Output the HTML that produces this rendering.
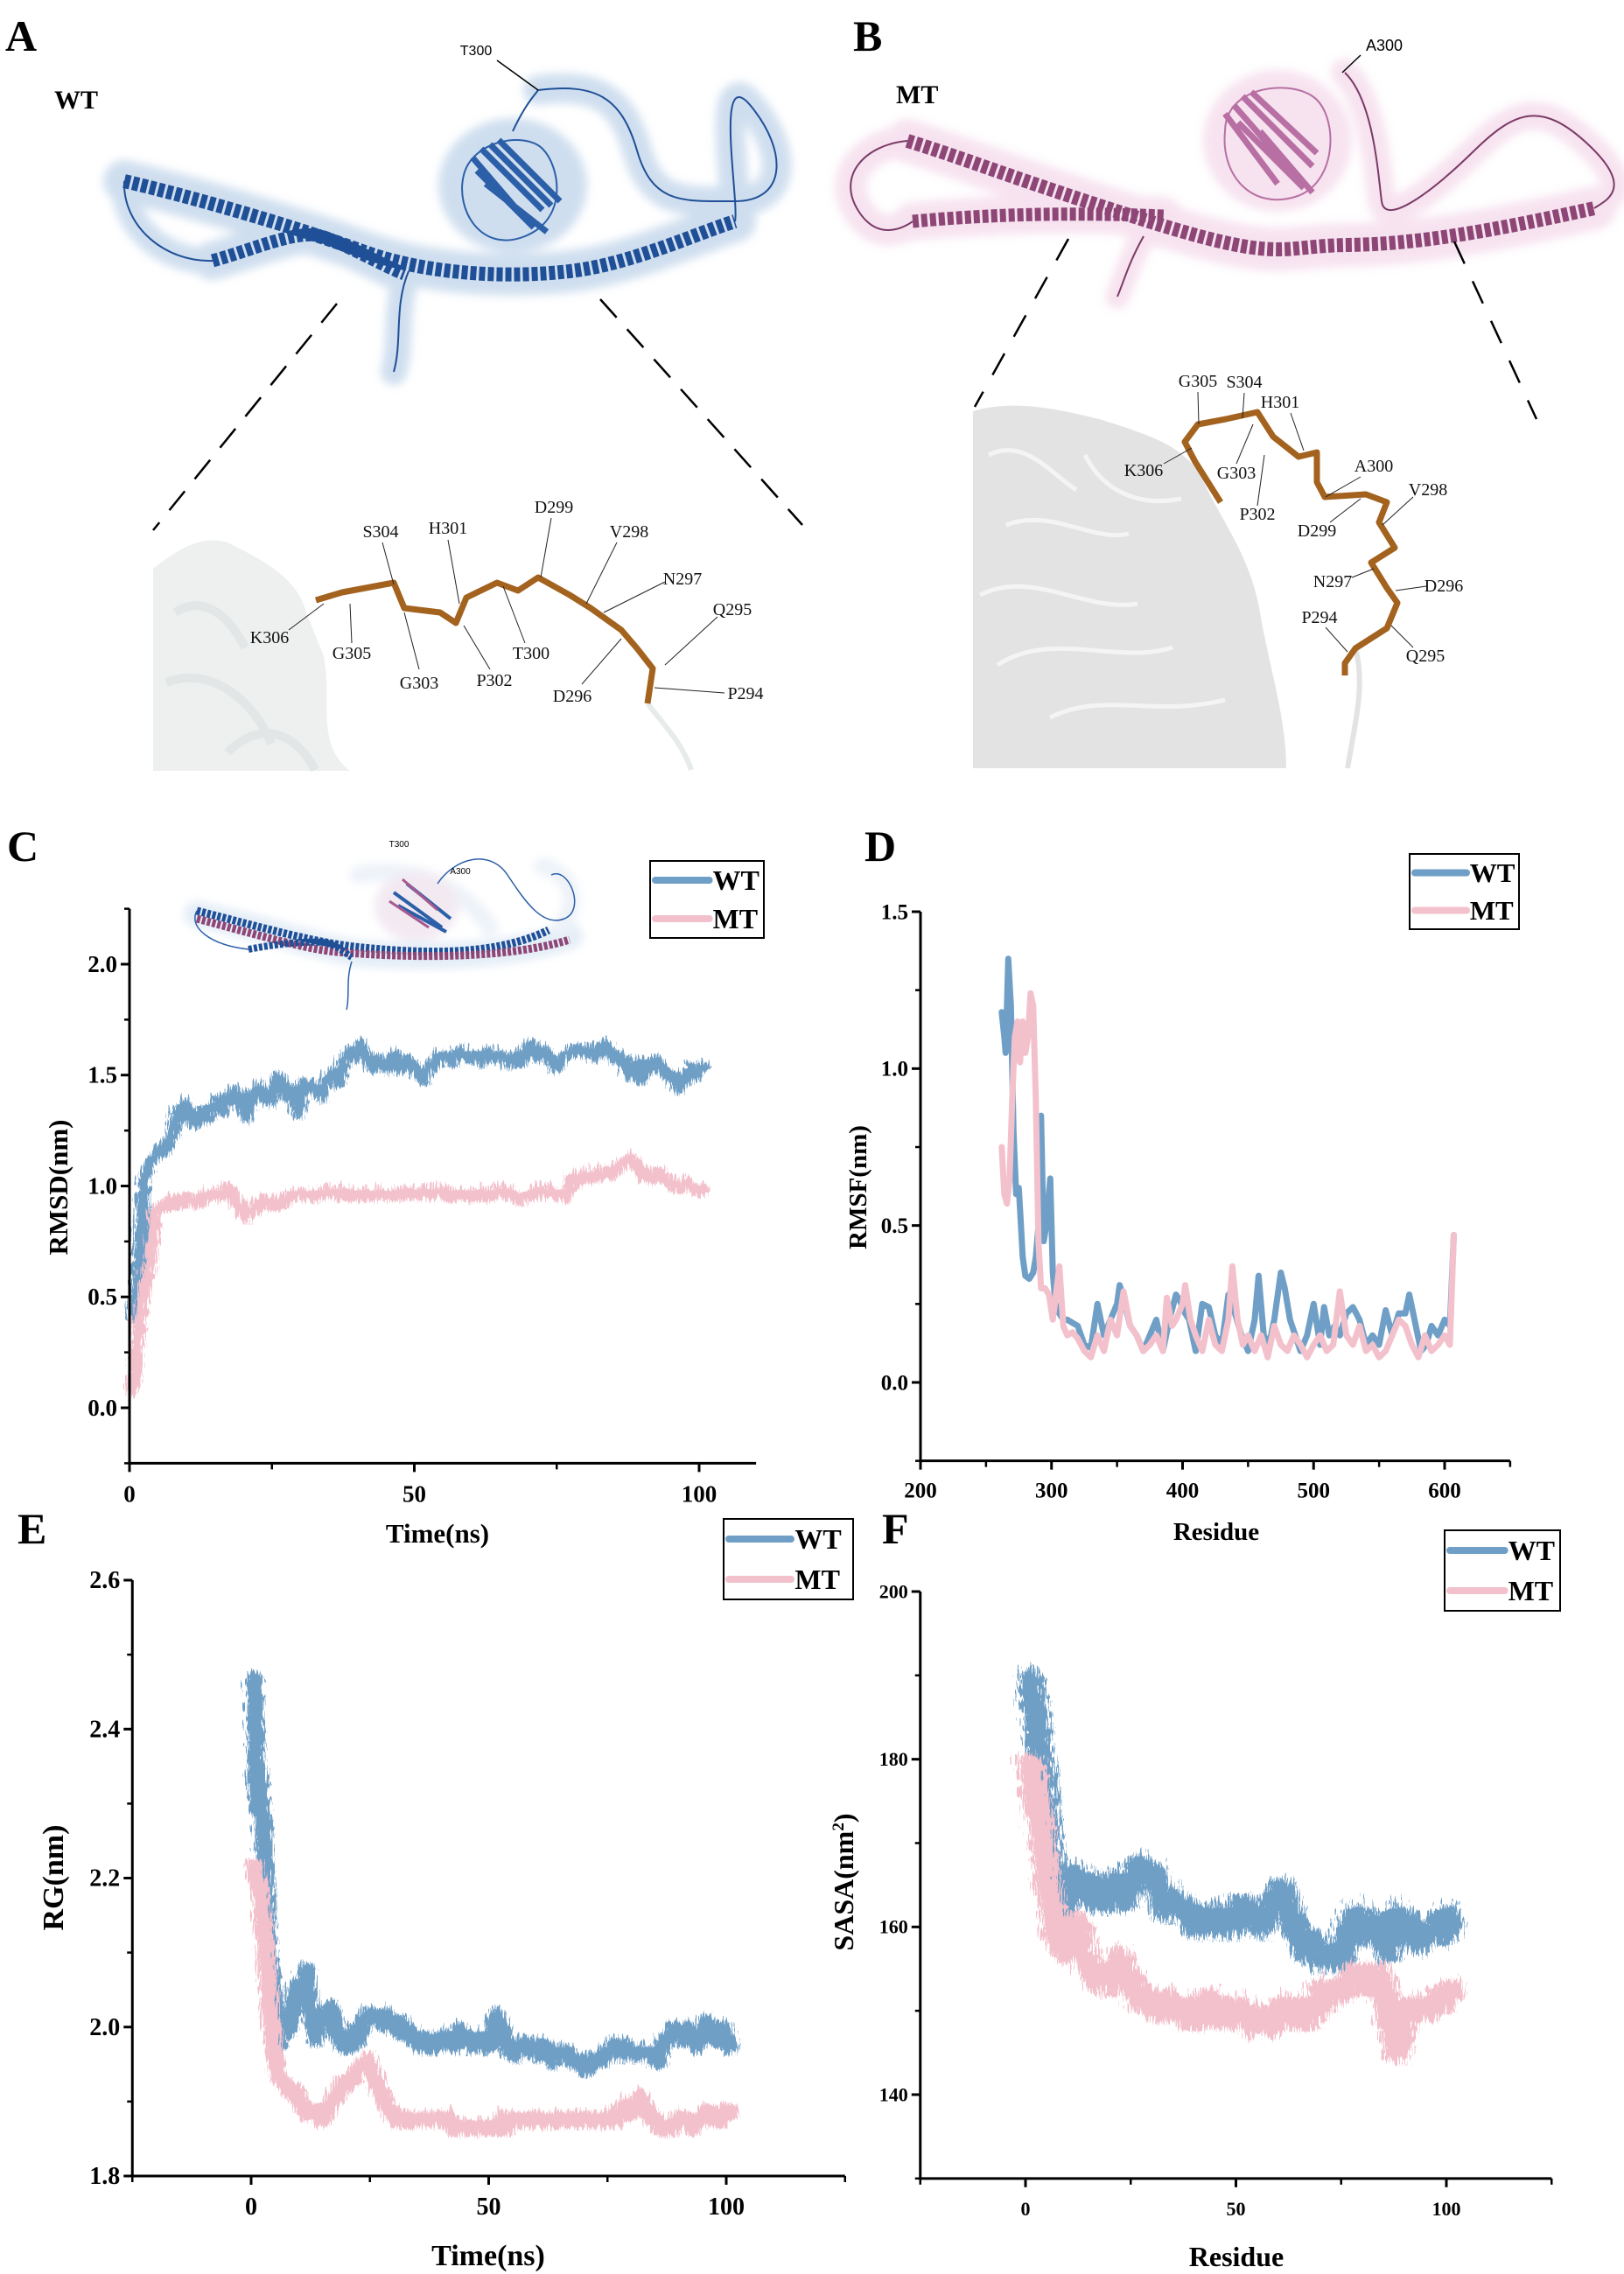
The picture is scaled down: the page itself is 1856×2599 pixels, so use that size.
<!DOCTYPE html>
<html><head><meta charset="utf-8">
<style>
html,body{margin:0;padding:0;background:#fff;}
svg{display:block;}
text{font-family:"Liberation Serif",serif;}
.sans{font-family:"Liberation Sans",sans-serif;}
</style></head>
<body>
<svg id="fig" xmlns="http://www.w3.org/2000/svg" width="1856" height="2599" viewBox="0 0 1856 2599">
<defs>
<filter id="blur" x="-20%" y="-20%" width="140%" height="140%"><feGaussianBlur stdDeviation="5"/></filter>
<filter id="jag" x="-5%" y="-10%" width="110%" height="120%">
<feTurbulence type="turbulence" baseFrequency="0.35 0.05" numOctaves="2" seed="3" result="t"/>
<feDisplacementMap in="SourceGraphic" in2="t" scale="16" xChannelSelector="A" yChannelSelector="R"/>
</filter>
<filter id="jag2" x="-5%" y="-10%" width="110%" height="120%">
<feTurbulence type="turbulence" baseFrequency="0.35 0.05" numOctaves="2" seed="7" result="t"/>
<feDisplacementMap in="SourceGraphic" in2="t" scale="26" xChannelSelector="A" yChannelSelector="R"/>
</filter>
</defs>

<!-- ============ Panel A ============ -->
<g>
<text x="6" y="58" font-size="50" font-weight="bold">A</text>
<text x="62" y="124" font-size="30" font-weight="bold">WT</text>
<g filter="url(#blur)" opacity="0.55" stroke="#a9c4e2" fill="none" stroke-linecap="round" stroke-linejoin="round">
<path d="M142,207 C220,225 340,260 414,287 S580,318 651,310 S800,265 840,253" stroke-width="48"/>
<path d="M243,298 C290,285 340,262 367,270 S440,305 462,313" stroke-width="44"/>
<path d="M142,207 C140,260 190,300 243,298" stroke-width="30"/>
<path d="M615,103 C680,95 710,110 728,172 S780,230 840,230 S900,172 858,121 S845,230 840,253" stroke-width="34"/>
<path d="M467,310 C450,350 460,390 450,425" stroke-width="30"/>
<ellipse cx="586" cy="212" rx="80" ry="72" fill="#a9c4e2" stroke-width="10"/>
</g>
<path d="M142,207 C220,225 340,260 414,287 S580,318 651,310 S800,265 840,253" stroke="#1f4f96" stroke-width="16" fill="none" stroke-dasharray="7 3"/>
<path d="M243,298 C290,285 340,262 367,270 S440,305 462,313" stroke="#1f4f96" stroke-width="15" fill="none" stroke-dasharray="7 3"/>
<path d="M142,207 C140,260 190,300 243,298 M615,103 C680,95 710,110 728,172 S780,230 840,230 S900,172 858,121 S845,230 840,253 M467,310 C450,350 460,390 450,425 M586,150 C600,120 610,110 615,103" stroke="#1f4f96" stroke-width="2" fill="none"/>
<g stroke="#2b5fa8" stroke-width="7" fill="none">
<path d="M540,180 L600,250 M550,170 L620,240 M560,165 L630,235 M545,195 L610,260 M555,210 L625,265 M570,160 L640,230"/>
<path d="M530,200 C540,160 600,150 620,170 S650,250 600,270 S520,240 530,200" stroke-width="2"/>
</g>
<text x="544" y="63" font-size="16" text-anchor="middle" class="sans">T300</text>
<line x1="568" y1="69" x2="615" y2="103" stroke="#000" stroke-width="1.5"/>
<g stroke="#000" stroke-width="2.5" stroke-dasharray="28 18">
<line x1="385" y1="347" x2="175" y2="606"/><line x1="686" y1="342" x2="917" y2="600"/>
</g>
<g>
<path d="M175,650 C200,630 230,610 260,620 C300,640 340,660 350,700 L370,750 C380,800 360,850 400,881 L175,881 Z" fill="#eef0f0"/>
<path d="M200,700 C230,680 260,700 280,740 M190,780 C240,760 290,800 310,850 M260,860 C300,820 340,840 360,880" stroke="#e2e6e6" stroke-width="10" fill="none"/>
<path d="M740,804 C760,830 780,850 790,880" stroke="#e8ebeb" stroke-width="6" fill="none"/>
<path d="M361,686 L391,677 L450,666 L462,695 L503,700 L521,712 L533,683 L568,666 L592,675 L615,660 L651,680 L675,695 L710,720 L728,741 L746,764 L740,804" stroke="#a3621e" stroke-width="7" fill="none" stroke-linejoin="round"/>
<g font-size="20" class="sans" text-anchor="middle" fill="#111">
<text x="308" y="735">K306</text><text x="402" y="753">G305</text><text x="435" y="614">S304</text>
<text x="479" y="787">G303</text><text x="512" y="610">H301</text><text x="565" y="784">P302</text>
<text x="607" y="753">T300</text><text x="633" y="586">D299</text><text x="719" y="614">V298</text>
<text x="780" y="668">N297</text><text x="837" y="703">Q295</text><text x="654" y="802">D296</text>
<text x="852" y="799">P294</text>
</g>
<g stroke="#222" stroke-width="1">
<line x1="330" y1="720" x2="370" y2="690"/><line x1="402" y1="735" x2="400" y2="690"/><line x1="437" y1="620" x2="450" y2="668"/>
<line x1="479" y1="765" x2="462" y2="700"/><line x1="512" y1="617" x2="525" y2="690"/><line x1="560" y1="765" x2="530" y2="715"/>
<line x1="600" y1="735" x2="575" y2="670"/><line x1="630" y1="592" x2="618" y2="660"/><line x1="705" y1="620" x2="670" y2="690"/>
<line x1="760" y1="665" x2="690" y2="700"/><line x1="820" y1="705" x2="760" y2="760"/><line x1="665" y1="782" x2="710" y2="730"/>
<line x1="828" y1="792" x2="748" y2="786"/>
</g>
</g>
</g>

<!-- ============ Panel B ============ -->
<g>
<text x="975" y="58" font-size="50" font-weight="bold">B</text>
<text x="1024" y="118" font-size="30" font-weight="bold">MT</text>
<g filter="url(#blur)" opacity="0.5" stroke="#efc8e0" fill="none" stroke-linecap="round" stroke-linejoin="round">
<path d="M1037,161 C1100,180 1160,205 1313,253 S1461,281 1540,280 S1700,265 1822,238" stroke-width="50"/>
<path d="M1043,253 C1100,248 1194,241 1330,247" stroke-width="44"/>
<path d="M1037,161 C990,165 955,200 981,241 S1043,253 1043,253" stroke-width="36"/>
<path d="M1537,83 C1570,115 1575,200 1579,230 S1638,218 1685,172 S1762,115 1816,166 S1833,230 1822,238" stroke-width="32"/>
<path d="M1307,270 C1290,300 1285,320 1277,339" stroke-width="28"/>
<ellipse cx="1460" cy="161" rx="80" ry="76" fill="#efc8e0" stroke-width="10"/>
</g>
<path d="M1037,161 C1100,180 1160,205 1313,253 S1461,281 1540,280 S1700,265 1822,238" stroke="#8e4677" stroke-width="16" fill="none" stroke-dasharray="7 3"/>
<path d="M1043,253 C1100,248 1194,241 1330,247" stroke="#8e4677" stroke-width="15" fill="none" stroke-dasharray="7 3"/>
<path d="M1037,161 C990,165 955,200 981,241 S1043,253 1043,253 M1537,83 C1570,115 1575,200 1579,230 S1638,218 1685,172 S1762,115 1816,166 S1833,230 1822,238 M1307,270 C1290,300 1285,320 1277,339" stroke="#7a3a66" stroke-width="2" fill="none"/>
<g stroke="#b86fa3" stroke-width="7" fill="none">
<path d="M1410,120 L1480,200 M1420,110 L1500,190 M1430,105 L1505,175 M1415,140 L1490,215 M1440,150 L1500,220 M1400,130 L1460,210"/>
<path d="M1400,150 C1400,100 1470,90 1500,110 S1530,210 1480,225 S1395,200 1400,150" stroke-width="2"/>
</g>
<text x="1582" y="58" font-size="18" text-anchor="middle" class="sans">A300</text>
<line x1="1555" y1="63" x2="1534" y2="83" stroke="#000" stroke-width="1.5"/>
<g stroke="#000" stroke-width="2.5" stroke-dasharray="28 22">
<line x1="1221" y1="273" x2="1114" y2="465"/><line x1="1662" y1="276" x2="1756" y2="479"/>
</g>
<g>
<path d="M1112,470 C1160,455 1220,470 1260,480 C1320,500 1360,510 1380,560 C1400,600 1430,640 1440,700 C1450,760 1470,820 1470,878 L1112,878 Z" fill="#e3e3e3"/>
<g stroke="#f4f4f4" stroke-width="5" fill="none">
<path d="M1130,520 C1170,500 1200,540 1230,560 M1150,600 C1200,580 1250,620 1290,610 M1120,680 C1180,650 1240,700 1300,690 M1140,760 C1200,720 1280,760 1340,740 M1240,520 C1260,560 1300,580 1350,570 M1200,820 C1260,790 1320,820 1400,800"/>
</g>
<path d="M1549,741 C1560,780 1550,820 1540,878" stroke="#e3e3e3" stroke-width="6" fill="none"/>
<path d="M1395,574 L1366,528 L1354,505 L1369,485 L1401,479 L1437,471 L1455,499 L1484,522 L1505,517 L1505,551 L1514,568 L1561,565 L1585,574 L1576,597 L1594,626 L1567,643 L1585,672 L1597,689 L1585,718 L1549,741 L1537,758 L1537,772" stroke="#a3621e" stroke-width="7" fill="none" stroke-linejoin="round"/>
<g font-size="20" class="sans" text-anchor="middle" fill="#111">
<text x="1369" y="442">G305</text><text x="1422" y="443">S304</text><text x="1463" y="466">H301</text>
<text x="1307" y="544">K306</text><text x="1413" y="547">G303</text><text x="1570" y="539">A300</text>
<text x="1437" y="594">P302</text><text x="1632" y="566">V298</text><text x="1505" y="613">D299</text>
<text x="1523" y="671">N297</text><text x="1650" y="676">D296</text><text x="1508" y="712">P294</text>
<text x="1629" y="756">Q295</text>
</g>
<g stroke="#222" stroke-width="1">
<line x1="1369" y1="448" x2="1370" y2="485"/><line x1="1422" y1="449" x2="1420" y2="478"/><line x1="1475" y1="472" x2="1490" y2="515"/>
<line x1="1330" y1="530" x2="1362" y2="512"/><line x1="1413" y1="530" x2="1432" y2="485"/><line x1="1555" y1="545" x2="1515" y2="568"/>
<line x1="1437" y1="578" x2="1445" y2="520"/><line x1="1615" y1="568" x2="1580" y2="600"/><line x1="1520" y1="597" x2="1555" y2="570"/>
<line x1="1545" y1="660" x2="1570" y2="650"/><line x1="1630" y1="670" x2="1595" y2="675"/><line x1="1515" y1="717" x2="1540" y2="745"/>
<line x1="1615" y1="740" x2="1590" y2="715"/>
</g>
</g>
</g>

<!-- chart layers -->
<g id="chartC"></g>
<g id="chartD"></g>
<g id="chartE"></g>
<g id="chartF"></g>

<!-- overlay structure in C -->
<g>
<g filter="url(#blur)" opacity="0.5" fill="none" stroke-linecap="round">
<path d="M225,1045 C300,1060 380,1088 414,1090 S560,1100 651,1070" stroke="#c9dcef" stroke-width="30"/>
<path d="M410,1000 C450,990 520,1000 560,1060 M620,990 C660,1000 660,1040 640,1060" stroke="#dde6f2" stroke-width="20"/>
<ellipse cx="476" cy="1036" rx="48" ry="40" fill="#e6d5e5" stroke="none"/>
</g>
<path d="M225,1041 C300,1060 360,1078 414,1083 S560,1096 627,1063" stroke="#1f4f96" stroke-width="9" fill="none" stroke-dasharray="4 2"/>
<path d="M225,1050 C300,1070 350,1085 385,1088 S560,1102 651,1074" stroke="#8e4677" stroke-width="9" fill="none" stroke-dasharray="4 2"/>
<path d="M284,1085 C320,1078 350,1076 367,1077 S395,1090 402,1094" stroke="#1f4f96" stroke-width="8" fill="none" stroke-dasharray="4 2"/>
<path d="M402,1099 C395,1120 400,1140 396,1154 M500,1010 C520,980 560,970 580,1000 S620,1060 645,1050 S650,990 630,1000 M225,1041 C215,1060 240,1080 284,1085" stroke="#2b5fa8" stroke-width="1.5" fill="none"/>
<g stroke="#2b5fa8" stroke-width="4"><line x1="450" y1="1020" x2="505" y2="1060"/><line x1="455" y1="1035" x2="510" y2="1065"/><line x1="465" y1="1010" x2="515" y2="1050"/></g>
<g stroke="#a85a8f" stroke-width="3"><line x1="445" y1="1030" x2="490" y2="1060"/><line x1="460" y1="1005" x2="500" y2="1040"/></g>
<text x="456" y="968" font-size="10" class="sans" text-anchor="middle">T300</text>
<text x="526" y="999" font-size="10" class="sans" text-anchor="middle">A300</text>
</g>
</svg>

<script>
// ---------- Chart C: RMSD ----------
const rmsdTime = [0,1,2,3,4,5,6,7,8,9,10,11,12,13,14,15,16,17,18,19,20,21,22,23,24,25,26,27,28,29,30,31,32,33,34,35,36,37,38,39,40,41,42,43,44,45,46,47,48,49,50,51,52,53,54,55,56,57,58,59,60,61,62,63,64,65,66,67,68,69,70,71,72,73,74,75,76,77,78,79,80,81,82,83,84,85,86,87,88,89,90,91,92,93,94,95,96,97,98,99,100];
const rmsdWT = [0.42,0.6,1.05,1.12,1.15,1.17,1.2,1.25,1.35,1.38,1.33,1.3,1.35,1.32,1.37,1.4,1.36,1.42,1.44,1.4,1.33,1.42,1.45,1.43,1.4,1.5,1.48,1.42,1.45,1.35,1.48,1.46,1.45,1.42,1.5,1.52,1.48,1.58,1.62,1.6,1.65,1.6,1.55,1.58,1.57,1.55,1.6,1.55,1.58,1.56,1.52,1.5,1.55,1.57,1.6,1.6,1.58,1.62,1.6,1.6,1.6,1.58,1.62,1.6,1.6,1.6,1.57,1.6,1.58,1.62,1.65,1.6,1.62,1.6,1.55,1.58,1.6,1.62,1.63,1.62,1.62,1.6,1.63,1.65,1.6,1.6,1.58,1.52,1.56,1.5,1.57,1.55,1.58,1.54,1.52,1.5,1.46,1.5,1.55,1.52,1.55];
const rmsdMT = [0.1,0.35,0.55,0.65,0.9,0.92,0.93,0.95,0.93,0.96,0.95,0.94,0.96,0.97,0.98,0.97,0.99,1.0,0.96,0.92,0.88,0.9,0.93,0.95,0.94,0.93,0.94,0.96,0.97,0.98,0.97,0.98,0.97,0.98,0.99,0.98,0.98,0.99,0.98,0.97,0.98,0.98,0.97,0.98,0.98,0.97,0.98,0.98,0.99,0.98,0.98,0.99,0.98,0.98,0.99,0.98,0.97,0.98,0.98,0.97,0.98,0.98,0.97,0.98,0.99,0.98,0.98,0.97,0.96,0.97,0.98,0.99,0.98,0.99,0.98,0.98,0.97,1.05,1.04,1.06,1.05,1.07,1.06,1.08,1.07,1.1,1.12,1.14,1.12,1.1,1.06,1.05,1.08,1.06,1.05,1.02,1.01,1.03,1.01,1.0,1.0];
const rmsdYTicks = ["0.0","0.5","1.0","1.5","2.0"];
const rmsdXTicks = ["0","50","100"];

// ---------- Chart D: RMSF ----------
const rmsfResWT = [262,264,265,267,269,271,273,275,276,278,280,283,286,288,290,292,294,296,299,301,303,306,309,312,316,320,325,330,335,340,345,350,352,355,360,365,370,375,380,385,390,395,398,402,405,410,415,420,425,430,435,440,445,450,455,458,462,466,470,475,478,482,486,490,495,500,505,508,512,516,520,525,530,535,540,545,550,555,560,565,570,573,577,582,586,590,595,600,604,607];
const rmsfWT = [1.18,1.1,1.05,1.35,1.2,0.8,0.6,0.62,0.55,0.4,0.34,0.33,0.35,0.4,0.5,0.85,0.45,0.5,0.65,0.35,0.25,0.22,0.2,0.2,0.19,0.18,0.12,0.11,0.25,0.15,0.2,0.25,0.31,0.27,0.18,0.15,0.1,0.15,0.2,0.1,0.2,0.28,0.26,0.22,0.2,0.1,0.25,0.24,0.15,0.12,0.28,0.22,0.15,0.1,0.2,0.34,0.15,0.12,0.2,0.35,0.3,0.2,0.15,0.1,0.15,0.25,0.12,0.24,0.15,0.18,0.15,0.22,0.24,0.2,0.12,0.15,0.12,0.23,0.15,0.22,0.22,0.28,0.2,0.1,0.12,0.18,0.15,0.2,0.18,0.47];
const rmsfResMT = [262,264,266,268,270,272,274,276,278,280,282,284,286,288,290,292,295,298,301,304,306,309,312,316,320,325,330,335,340,345,350,355,360,365,370,375,380,385,388,392,395,400,402,406,410,415,420,425,430,435,438,442,446,450,455,460,465,470,475,480,485,490,495,500,505,510,515,520,525,530,535,540,545,550,555,560,565,570,575,580,585,590,595,600,604,607];
const rmsfMT = [0.75,0.6,0.57,0.65,0.9,1.1,1.15,1.02,1.15,1.05,1.1,1.24,1.2,0.9,0.45,0.3,0.3,0.28,0.2,0.3,0.37,0.18,0.15,0.16,0.14,0.1,0.08,0.15,0.1,0.2,0.15,0.29,0.18,0.15,0.1,0.12,0.15,0.1,0.27,0.18,0.2,0.25,0.31,0.2,0.15,0.1,0.2,0.12,0.1,0.2,0.37,0.2,0.12,0.15,0.1,0.15,0.08,0.18,0.12,0.1,0.15,0.12,0.08,0.12,0.15,0.1,0.12,0.29,0.15,0.12,0.18,0.1,0.12,0.08,0.1,0.15,0.2,0.18,0.12,0.08,0.15,0.1,0.12,0.15,0.12,0.47];
const rmsfYTicks = ["0.0","0.5","1.0","1.5"];
const rmsfXTicks = ["200","300","400","500","600"];

// ---------- Chart E: RG ----------
const rgTime = [0,0.5,1,2,3,4,5,6,7,8,9,10,11,12,13,14,15,16,17,18,19,20,21,22,23,24,25,26,27,28,29,30,31,32,33,34,35,36,37,38,39,40,41,42,43,44,45,46,47,48,49,50,51,52,53,54,55,56,57,58,59,60,61,62,63,64,65,66,67,68,69,70,71,72,73,74,75,76,77,78,79,80,81,82,83,84,85,86,87,88,89,90,91,92,93,94,95,96,97,98,99,100];
const rgWT = [2.47,2.3,2.35,2.25,2.1,2.05,1.98,2.02,2.0,2.03,2.06,2.05,2.08,2.02,1.99,2.02,2.01,2.03,2.0,1.99,1.98,1.98,2.0,1.99,2.01,2.02,2.02,2.02,2.01,2.02,2.01,2.0,2.01,2.0,1.99,1.99,1.98,1.99,1.98,1.98,1.99,1.99,1.99,1.98,2.0,1.99,1.99,1.98,1.99,1.98,1.98,2.0,2.02,2.01,1.98,1.97,1.97,1.98,1.98,1.98,1.97,1.97,1.98,1.97,1.96,1.97,1.97,1.97,1.96,1.96,1.95,1.95,1.96,1.96,1.96,1.97,1.97,1.98,1.97,1.98,1.97,1.97,1.97,1.97,1.97,1.97,1.96,1.98,1.99,2.0,2.0,1.99,2.0,1.99,1.98,1.99,2.01,2.0,1.99,2.0,2.0,1.98];
const rgMT = [2.22,2.2,2.2,2.13,2.05,1.97,1.94,1.93,1.92,1.92,1.91,1.9,1.89,1.89,1.89,1.88,1.89,1.9,1.91,1.92,1.93,1.93,1.94,1.95,1.95,1.96,1.94,1.93,1.91,1.9,1.89,1.88,1.88,1.88,1.88,1.88,1.88,1.88,1.88,1.88,1.88,1.88,1.88,1.87,1.87,1.87,1.87,1.87,1.87,1.87,1.87,1.87,1.87,1.88,1.87,1.88,1.88,1.88,1.88,1.88,1.88,1.88,1.88,1.88,1.88,1.88,1.88,1.88,1.88,1.88,1.88,1.88,1.88,1.88,1.88,1.88,1.88,1.88,1.89,1.9,1.89,1.9,1.91,1.9,1.89,1.88,1.87,1.87,1.87,1.87,1.88,1.88,1.88,1.87,1.88,1.88,1.89,1.89,1.88,1.88,1.89,1.89];
const rgYTicks = ["1.8","2.0","2.2","2.4","2.6"];
const rgXTicks = ["0","50","100"];

// ---------- Chart F: SASA ----------
const sasaTime = [0,1,2,3,4,5,6,7,8,9,10,11,12,13,14,15,16,17,18,19,20,21,22,23,24,25,26,27,28,29,30,31,32,33,34,35,36,37,38,39,40,41,42,43,44,45,46,47,48,49,50,51,52,53,54,55,56,57,58,59,60,61,62,63,64,65,66,67,68,69,70,71,72,73,74,75,76,77,78,79,80,81,82,83,84,85,86,87,88,89,90,91,92,93,94,95,96,97,98,99,100];
const sasaWT = [190,187,182,178,172,168,164,161,164,165,167,166,166,165,166,164,164,165,164,165,166,165,164,165,166,167,168,167,167,167,166,164,163,163,164,163,163,163,162,161,162,161,162,161,162,161,162,161,161,162,163,163,162,162,161,161,162,163,164,165,165,164,162,160,159,158,158,159,157,157,157,157,157,158,157,160,161,162,162,161,160,161,160,160,161,158,160,162,160,160,161,160,159,160,160,160,160,161,160,162,161];
const sasaMT = [180,176,174,170,166,163,160,159,158,158,160,161,160,157,156,155,155,154,155,154,156,157,156,155,154,153,152,152,152,151,151,151,152,151,151,151,151,150,151,151,150,151,152,151,151,150,151,150,150,150,151,150,150,149,150,150,150,149,150,151,151,150,151,150,150,151,150,151,151,153,152,153,153,153,153,154,154,155,154,155,155,154,155,155,154,150,148,146,148,150,151,151,151,151,151,151,152,152,152,153,153];
const sasaYTicks = ["140","160","180","200"];
const sasaXTicks = ["0","50","100"];

const NS = "http://www.w3.org/2000/svg";
const WT_COLOR = "#6f9fc6", MT_COLOR = "#f3c1cc";
function mk(tag, attrs, parent){
  const e = document.createElementNS(NS, tag);
  for (const k in attrs) e.setAttribute(k, attrs[k]);
  parent.appendChild(e);
  return e;
}
function linear(d0,d1,r0,r1){ return v => r0 + (v-d0)*(r1-r0)/(d1-d0); }

function drawChart(cfg){
  const g = document.getElementById(cfg.id);
  const x = linear(cfg.xd[0], cfg.xd[1], cfg.xr[0], cfg.xr[1]);
  const y = linear(cfg.yd[0], cfg.yd[1], cfg.yr[0], cfg.yr[1]);
  const xMin = cfg.xAxis[0], xMax = cfg.xAxis[1], yMin = cfg.yAxis[0], yMax = cfg.yAxis[1];
  cfg.series.forEach(s => {
    let d = "";
    s.xs.forEach((xv,i) => { d += (i ? "L" : "M") + x(xv).toFixed(1) + "," + y(s.ys[i]).toFixed(1); });
    const attrs = {d:d, fill:"none", stroke:s.color, "stroke-width":cfg.sw, "stroke-linejoin":"round", "stroke-linecap":"round"};
    if (cfg.filter) attrs.filter = "url(#" + cfg.filter + ")";
    const p = mk("path", attrs, g);
    
    
  });
  const ax = mk("line", {x1:x(xMin), y1:y(yMin), x2:x(xMax), y2:y(yMin), stroke:"#000", "stroke-width":3}, g);
  
  
  const ay = mk("line", {x1:x(xMin), y1:y(yMin)+1.5, x2:x(xMin), y2:y(yMax), stroke:"#000", "stroke-width":3}, g);
  
  
  cfg.yTicks.forEach(t => {
    const v = parseFloat(t), yy = y(v);
    mk("line", {x1:x(xMin)-10, y1:yy, x2:x(xMin), y2:yy, stroke:"#000", "stroke-width":3}, g);
    const tx = mk("text", {x:x(xMin)-14, y:yy+cfg.tfs*0.33, "font-size":cfg.tfs, "font-weight":"bold", "text-anchor":"end"}, g);
    tx.textContent = t;
    
    
  });
  cfg.yMinor.forEach(v => { mk("line", {x1:x(xMin)-6, y1:y(v), x2:x(xMin), y2:y(v), stroke:"#000", "stroke-width":2.5}, g); });
  cfg.xTicks.forEach(t => {
    const v = parseFloat(t), xx = x(v);
    mk("line", {x1:xx, y1:y(yMin), x2:xx, y2:y(yMin)+10, stroke:"#000", "stroke-width":3}, g);
    const tx = mk("text", {x:xx, y:y(yMin)+cfg.xlo, "font-size":cfg.tfs, "font-weight":"bold", "text-anchor":"middle"}, g);
    tx.textContent = t;
    
    
  });
  cfg.xMinor.forEach(v => { mk("line", {x1:x(v), y1:y(yMin), x2:x(v), y2:y(yMin)+7, stroke:"#000", "stroke-width":2.5}, g); });
  const xt = mk("text", {x:cfg.xTitle[0], y:cfg.xTitle[1], "font-size":cfg.afs, "font-weight":"bold", "text-anchor":"middle"}, g);
  xt.textContent = cfg.xTitle[2];
  
  
  const yt = mk("text", {x:0, y:0, "font-size":cfg.afs, "font-weight":"bold", "text-anchor":"middle", transform:"translate("+cfg.yTitle[0]+","+cfg.yTitle[1]+") rotate(-90)"}, g);
  yt.textContent = cfg.yTitle[2];
  if (cfg.yTitleSup) { const ts = mk("tspan", {"font-size":cfg.afs*0.6, dy:-cfg.afs*0.35}, yt); ts.textContent = "2"; const ts2 = mk("tspan", {dy:cfg.afs*0.35}, yt); ts2.textContent = ")"; }
  
  
  const pl = mk("text", {x:cfg.letter[0], y:cfg.letter[1], "font-size":50, "font-weight":"bold"}, g);
  pl.textContent = cfg.letter[2];
  
  
  const L = cfg.legend;
  const lg = mk("g", {}, g);
  
  
  mk("rect", {x:L[0], y:L[1], width:L[2], height:L[3], fill:"#fff", stroke:"#000", "stroke-width":2}, lg);
  const rowH = L[3]/2;
  [["WT",WT_COLOR],["MT",MT_COLOR]].forEach((e,i) => {
    const cy = L[1] + rowH*(i+0.5);
    const ent = mk("g", {}, lg);
    
    
    mk("line", {x1:L[0]+6, y1:cy, x2:L[0]+L[2]*0.52, y2:cy, stroke:e[1], "stroke-width":8, "stroke-linecap":"round"}, ent);
    const t = mk("text", {x:L[0]+L[2]*0.55, y:cy+cfg.lfs*0.34, "font-size":cfg.lfs, "font-weight":"bold"}, ent);
    t.textContent = e[0];
  });
}

drawChart({id:"chartC", xd:[0,100], xr:[148,799], yd:[0,2], yr:[1609,1102],
  xAxis:[0,110], yAxis:[-0.25,2.25], sw:15, tfs:27, afs:31, xlo:44, filter:"jag",
  series:[{xs:rmsdTime, ys:rmsdWT, color:WT_COLOR, name:"wt-rmsd-line"},{xs:rmsdTime, ys:rmsdMT, color:MT_COLOR, name:"mt-rmsd-line"}],
  yTicks:rmsdYTicks, yMinor:[-0.25,0.25,0.75,1.25,1.75,2.25], xTicks:rmsdXTicks, xMinor:[25,75],
  xTitle:[500,1763,"Time(ns)"], yTitle:[77,1357,"RMSD(nm)"], letter:[8,984,"C"], legend:[743,984,130,88], lfs:32});

drawChart({id:"chartD", xd:[200,600], xr:[1052,1651], yd:[0,1.5], yr:[1580,1042],
  xAxis:[200,650], yAxis:[-0.25,1.5], sw:7, tfs:25, afs:29, xlo:42,
  series:[{xs:rmsfResWT, ys:rmsfWT, color:WT_COLOR, name:"wt-rmsf-line"},{xs:rmsfResMT, ys:rmsfMT, color:MT_COLOR, name:"mt-rmsf-line"}],
  yTicks:rmsfYTicks, yMinor:[-0.25,0.25,0.75,1.25], xTicks:rmsfXTicks, xMinor:[250,350,450,550,650],
  xTitle:[1390,1760,"Residue"], yTitle:[990,1357,"RMSF(nm)"], letter:[988,984,"D"], legend:[1611,976,125,86], lfs:31});

drawChart({id:"chartE", xd:[0,100], xr:[287,830], yd:[1.8,2.6], yr:[2487,1806],
  xAxis:[-25,125], yAxis:[1.8,2.6], sw:20, tfs:28, afs:34, xlo:44, filter:"jag",
  series:[{xs:rgTime, ys:rgWT, color:WT_COLOR, name:"wt-rg-line"},{xs:rgTime, ys:rgMT, color:MT_COLOR, name:"mt-rg-line"}],
  yTicks:rgYTicks, yMinor:[1.9,2.1,2.3,2.5], xTicks:rgXTicks, xMinor:[-25,25,75,125],
  xTitle:[558,2589,"Time(ns)"], yTitle:[72,2146,"RG(nm)"], letter:[20,1764,"E"], legend:[827,1736,148,92], lfs:32});

drawChart({id:"chartF", xd:[0,100], xr:[1172,1653], yd:[140,200], yr:[2394,1819],
  xAxis:[-25,125], yAxis:[130,200], sw:30, tfs:22, afs:32, xlo:42, filter:"jag2",
  series:[{xs:sasaTime, ys:sasaWT, color:WT_COLOR, name:"wt-sasa-line"},{xs:sasaTime, ys:sasaMT, color:MT_COLOR, name:"mt-sasa-line"}],
  yTicks:sasaYTicks, yMinor:[130,150,170,190], xTicks:sasaXTicks, xMinor:[-25,25,75,125],
  xTitle:[1413,2590,"Residue"], yTitle:[975,2151,"SASA(nm"], yTitleSup:true, letter:[1008,1764,"F"], legend:[1651,1749,132,92], lfs:32});
</script>
</body></html>
